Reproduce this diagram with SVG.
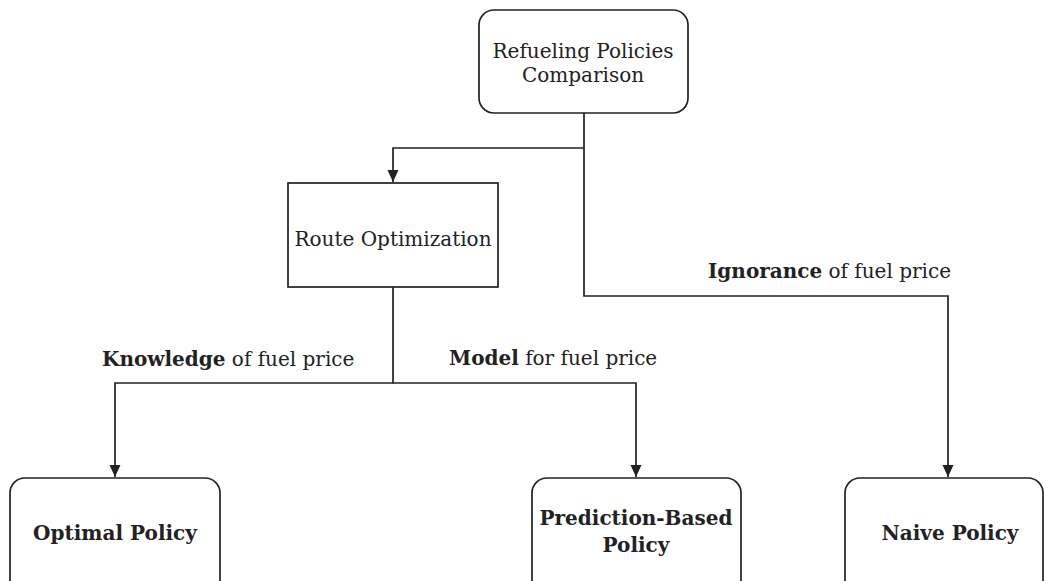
<svg xmlns="http://www.w3.org/2000/svg" width="1045" height="581" viewBox="0 0 1045 581">
<style>
.box{fill:#fff;stroke:#222;stroke-width:1.7}
.t{font-family:"DejaVu Serif","Liberation Serif",serif;font-size:20px;fill:#222;text-anchor:middle}
.l{font-family:"DejaVu Serif","Liberation Serif",serif;font-size:20px;fill:#222}
.b{font-weight:bold}
.c{fill:none;stroke:#222;stroke-width:1.7}
</style>
<defs>
<marker id="arr" viewBox="0 0 12 12" refX="12" refY="6" markerWidth="12" markerHeight="12" markerUnits="userSpaceOnUse" orient="auto">
<path d="M0,0.5 L12,6 L0,11.5 z" fill="#222"/>
</marker>
</defs>
<g id="connectors">
<path class="c" d="M584,113 V148 H393 V182" marker-end="url(#arr)"/>
<path class="c" d="M584,148 V296 H948 V477" marker-end="url(#arr)"/>
<path class="c" d="M393,287 V383 H115 V477" marker-end="url(#arr)"/>
<path class="c" d="M393,383 H636 V477" marker-end="url(#arr)"/>
</g>
<g id="labels">
<text class="l" x="102" y="366"><tspan class="b">Knowledge</tspan> of fuel price</text>
<text class="l" x="449" y="365"><tspan class="b">Model</tspan> for fuel price</text>
<text class="l" x="708" y="278"><tspan class="b">Ignorance</tspan> of fuel price</text>
</g>
<g id="node-comparison">
<rect class="box" x="479" y="10" width="209" height="103" rx="15"/>
<text class="t" x="583" y="58">Refueling Policies</text>
<text class="t" x="583" y="82">Comparison</text>
</g>
<g id="node-route">
<rect class="box" x="288" y="183" width="210" height="104"/>
<text class="t" x="393" y="246">Route Optimization</text>
</g>
<g id="node-optimal">
<rect class="box" x="10" y="478" width="210" height="120" rx="15"/>
<text class="t b" x="115" y="540">Optimal Policy</text>
</g>
<g id="node-prediction">
<rect class="box" x="532" y="478" width="209" height="120" rx="15"/>
<text class="t b" x="636" y="525">Prediction-Based</text>
<text class="t b" x="636" y="552">Policy</text>
</g>
<g id="node-naive">
<rect class="box" x="845" y="478" width="198" height="120" rx="15"/>
<text class="t b" x="950" y="540">Naive Policy</text>
</g>
</svg>
